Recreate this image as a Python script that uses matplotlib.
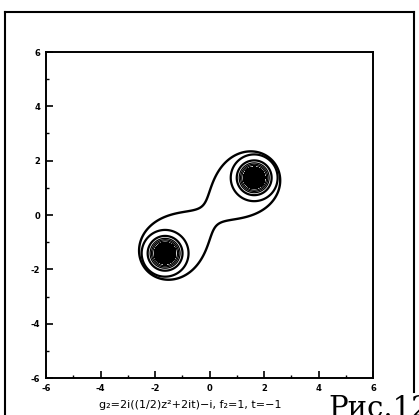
import numpy as np
import matplotlib
matplotlib.use("Agg")
import matplotlib.pyplot as plt
from matplotlib.lines import Line2D

plt.rcParams["axes.unicode_minus"] = False

# Positions of the two lumps in the (x, y) plane
centre_x = [1.64, -1.63]
centre_y = [1.37, -1.41]
core_width = 0.5

# Contour levels of the lump density: heavy outer rings, lighter inner rings
heavy_levels = [0.064, 0.144]
light_levels = [0.205, 0.25, 0.3]
core_level = 0.372
# Level of the |(z - z1)(z - z2)| field giving the joint "peanut" curve
peanut_level = [4.8]

tick_values = [-6, -4, -2, 0, 2, 4, 6]
tick_labels = ["-6", "-4", "-2", "0", "2", "4", "6"]

caption = "g\u2082=2i((1/2)z\u00b2+2it)\u2212i, f\u2082=1, t=\u22121"
fig_label = "Рис.12"

W, H = 419, 415
fig = plt.figure(figsize=(W / 100, H / 100), dpi=100)
ax = fig.add_axes([46 / W, (H - 378) / H, 327 / W, 326 / H])

grid = np.linspace(-6, 6, 1201)
X, Y = np.meshgrid(grid, grid)
Z = X + 1j * Y
zc = [complex(a, b) for a, b in zip(centre_x, centre_y)]

density = sum(1.0 / (1.0 + np.abs(Z - z) ** 2 / core_width ** 2) ** 2 for z in zc)
pair = np.abs((Z - zc[0]) * (Z - zc[1]))

ax.contour(X, Y, pair, levels=peanut_level, colors="black", linewidths=1.7)
ax.contour(X, Y, density, levels=heavy_levels, colors="black", linewidths=1.6)
ax.contour(X, Y, density, levels=light_levels, colors="black", linewidths=0.9)
ax.contourf(X, Y, density, levels=[core_level, density.max() + 1], colors="black")

ax.set_xlim(-6, 6)
ax.set_ylim(-6, 6)
ax.set_xticks(tick_values)
ax.set_yticks(tick_values)
ax.set_xticklabels(tick_labels)
ax.set_yticklabels(tick_labels)
ax.set_xticks(np.arange(-5, 6, 2), minor=True)
ax.set_yticks(np.arange(-5, 6, 2), minor=True)
ax.tick_params(which="major", direction="in", length=5, width=1.2,
               labelsize=6, pad=4, top=False, right=False)
ax.tick_params(which="minor", direction="in", length=2.5, width=1.0,
               top=False, right=False)
for lbl in ax.get_xticklabels() + ax.get_yticklabels():
    lbl.set_fontweight("bold")
for sp in ax.spines.values():
    sp.set_linewidth(1.4)

# Outer page frame
frame_kw = dict(transform=fig.transFigure, color="black", linewidth=1.5)
fig.add_artist(Line2D([5 / W, 5 / W], [0, (H - 12) / H], **frame_kw))
fig.add_artist(Line2D([5 / W, 414 / W], [(H - 12) / H, (H - 12) / H], **frame_kw))
fig.add_artist(Line2D([414 / W, 414 / W], [(H - 12) / H, (H - 392) / H], **frame_kw))

fig.text(190 / W, (H - 405) / H, caption, ha="center", va="center",
         fontsize=8, family="DejaVu Sans")
fig.text(328 / W, -2 / H, fig_label, ha="left", va="baseline",
         fontsize=21, family="DejaVu Serif")

fig.savefig("out.png", dpi=100, facecolor="white")
